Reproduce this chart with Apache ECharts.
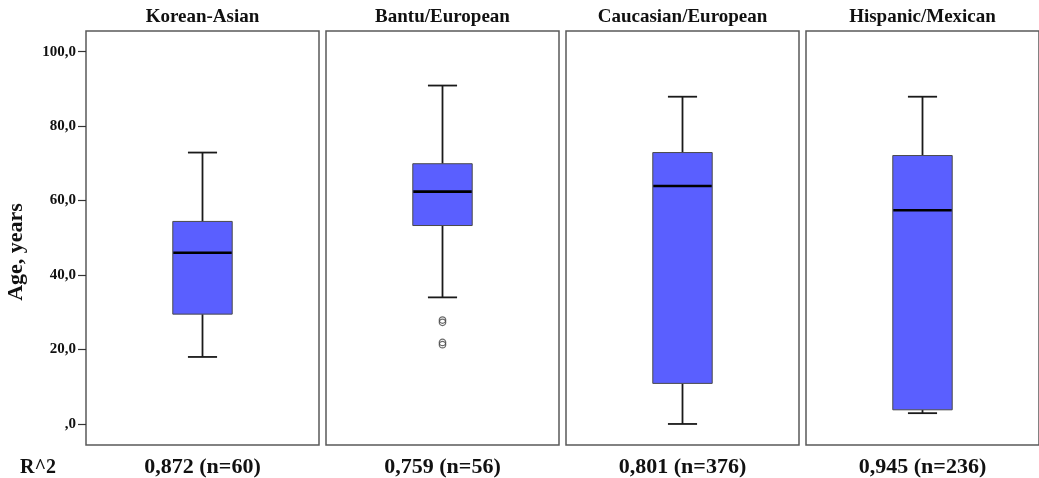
<!DOCTYPE html>
<html>
<head>
<meta charset="utf-8">
<script src="https://cdn.jsdelivr.net/npm/echarts@6/dist/echarts.min.js"></script>
<style>
html,body{margin:0;padding:0;background:#fff;}
#main{width:1039px;height:478px;}
</style>
</head>
<body>
<div id="main"></div>
<script>
// ---- data ----
const groups = ['Korean-Asian', 'Bantu/European', 'Caucasian/European', 'Hispanic/Mexican'];
const r2Labels = ['0,872 (n=60)', '0,759 (n=56)', '0,801 (n=376)', '0,945 (n=236)'];
const whiskerLow = [18.0, 34.0, 0.0, 2.9];
const q1 = [29.5, 53.3, 10.9, 3.8];
const median = [46.0, 62.4, 63.9, 57.4];
const q3 = [54.4, 69.9, 72.9, 72.1];
const whiskerHigh = [72.9, 90.9, 87.9, 87.9];
const outliers = [[], [27.9, 27.3, 21.9, 21.3], [], []];
const yTicks = [0, 20, 40, 60, 80, 100];
const yTickLabels = [',0', '20,0', '40,0', '60,0', '80,0', '100,0'];
const yAxisTitle = 'Age, years';
const rowLabel = 'R^2';

// ---- layout ----
const FONT = "'Liberation Serif', 'Times New Roman', serif";
const panelLeft0 = 86, panelStep = 240, panelW = 233, panelTop = 31, panelH = 417;

const grids = [], xAxes = [], yAxes = [], series = [];
groups.forEach((g, i) => {
  grids.push({
    left: panelLeft0 + i * panelStep, top: panelTop, width: panelW, height: panelH,
    show: true, borderColor: '#5a5a5a', borderWidth: 1.5, backgroundColor: '#fff'
  });
  // top axis carries group name
  xAxes.push({
    gridIndex: i, type: 'category', position: 'top', data: [g],
    axisLine: { show: false }, axisTick: { show: false },
    axisLabel: { margin: 4, color: '#111', fontFamily: FONT, fontWeight: 'bold', fontSize: 19 }
  });
  // bottom axis carries R^2 label
  xAxes.push({
    gridIndex: i, type: 'category', position: 'bottom', data: [r2Labels[i]],
    axisLine: { show: false }, axisTick: { show: false },
    axisLabel: { margin: 11, color: '#111', fontFamily: FONT, fontWeight: 'bold', fontSize: 22 }
  });
  yAxes.push({
    gridIndex: i, type: 'value', min: -5.65, max: 105.55,
    splitLine: { show: false },
    axisLine: { show: false },
    axisTick: { show: i === 0, customValues: yTicks, length: 8, lineStyle: { color: '#333', width: 1.2 } },
    axisLabel: {
      show: i === 0, customValues: yTicks, margin: 10,
      color: '#111', fontFamily: FONT, fontWeight: 'bold', fontSize: 15,
      formatter: v => yTickLabels[yTicks.indexOf(v)]
    }
  });
  series.push({
    type: 'custom', xAxisIndex: i * 2, yAxisIndex: i,
    data: [[0, whiskerLow[i], q1[i], median[i], q3[i], whiskerHigh[i]]],
    renderItem: function (params, api) {
      const band = api.size([1, 0])[0];
      const cx = api.coord([api.value(0), 0])[0];
      const yLo = api.coord([0, api.value(1)])[1];
      const yQ1 = api.coord([0, api.value(2)])[1];
      const yMed = api.coord([0, api.value(3)])[1];
      const yQ3 = api.coord([0, api.value(4)])[1];
      const yHi = api.coord([0, api.value(5)])[1];
      const bw = band * 0.255, cw = band * 0.125;
      const ws = { stroke: '#1a1a1a', lineWidth: 1.8 };
      return {
        type: 'group',
        children: [
          { type: 'line', shape: { x1: cx, y1: yHi, x2: cx, y2: yQ3 }, style: ws },
          { type: 'line', shape: { x1: cx, y1: yQ1, x2: cx, y2: yLo }, style: ws },
          { type: 'line', shape: { x1: cx - cw / 2, y1: yHi, x2: cx + cw / 2, y2: yHi }, style: ws },
          { type: 'line', shape: { x1: cx - cw / 2, y1: yLo, x2: cx + cw / 2, y2: yLo }, style: ws },
          { type: 'rect', shape: { x: cx - bw / 2, y: yQ3, width: bw, height: yQ1 - yQ3 },
            style: { fill: '#5a5fff', stroke: '#4a4a4a', lineWidth: 1 } },
          { type: 'line', shape: { x1: cx - bw / 2 + 0.5, y1: yMed, x2: cx + bw / 2 - 0.5, y2: yMed },
            style: { stroke: '#000', lineWidth: 2.6 } }
        ]
      };
    }
  });
  if (outliers[i].length) {
    series.push({
      type: 'scatter', xAxisIndex: i * 2, yAxisIndex: i,
      data: outliers[i].map(v => [0, v]),
      symbol: 'circle', symbolSize: 6.5,
      itemStyle: { color: 'rgba(255,255,255,0)', borderColor: '#444', borderWidth: 1.2 },
      z: 5
    });
  }
});

const chart = echarts.init(document.getElementById('main'), null, { renderer: 'canvas' });
chart.setOption({
  animation: false,
  backgroundColor: '#fff',
  grid: grids, xAxis: xAxes, yAxis: yAxes, series: series,
  graphic: [
    { type: 'text', x: 16, y: 252, rotation: Math.PI / 2,
      style: { text: yAxisTitle, align: 'center', verticalAlign: 'middle',
               font: "bold 22px 'Liberation Serif', 'Times New Roman', serif", fill: '#111' } },
    { type: 'text', x: 38, y: 468,
      style: { text: rowLabel, align: 'center', verticalAlign: 'middle',
               font: "bold 20px 'Liberation Serif', 'Times New Roman', serif", fill: '#111' } }
  ]
});
</script>
</body>
</html>
